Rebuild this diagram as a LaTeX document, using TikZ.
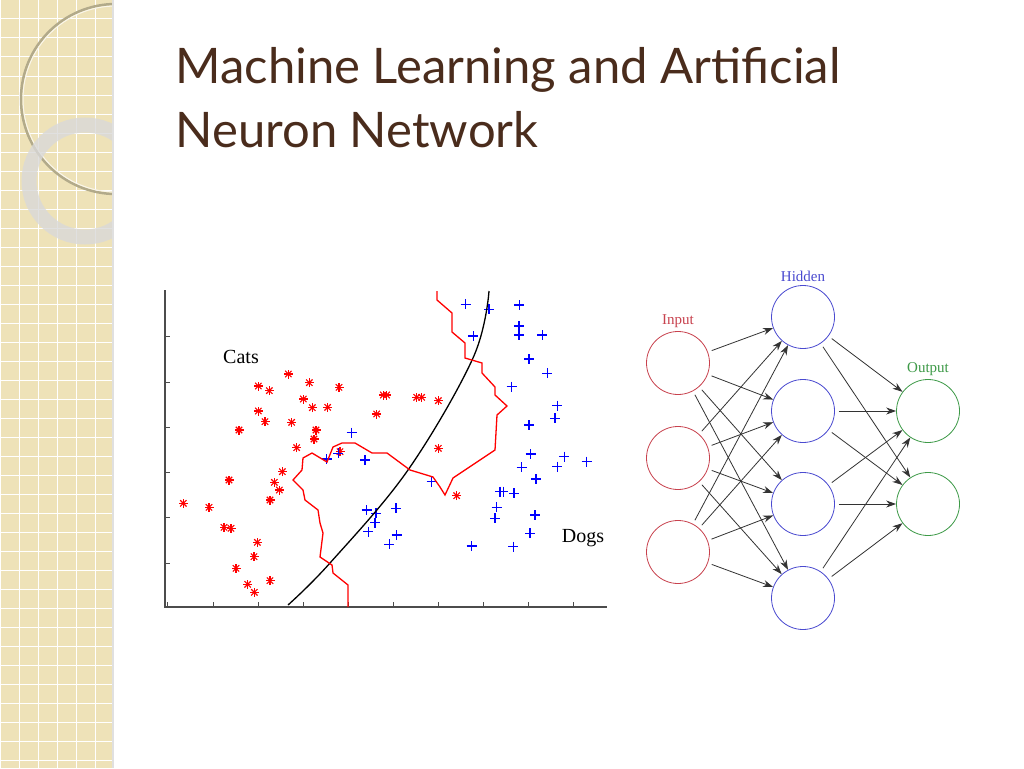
\documentclass[tikz,border=0pt]{standalone}
\usepackage{fontspec}
\setmainfont{Liberation Serif}
\newfontfamily\titlefont{Lato}
\usetikzlibrary{arrows.meta}
\definecolor{sidebeige}{HTML}{EEE2B8}
\definecolor{titlebrown}{HTML}{4A2C1C}
\definecolor{inred}{HTML}{C8424E}
\definecolor{hidblue}{HTML}{4A4AD0}
\definecolor{outgreen}{HTML}{3E9A48}
\tikzset{
  neuron/.style={circle,draw,line width=0.8pt,minimum size=63pt,inner sep=0pt},
  layerlabel/.style={font=\fontsize{15}{15}\selectfont},
  link/.style={-{Stealth[length=10pt,width=7pt]},black!80,line width=0.8pt,shorten <=4pt},
  catmark/.style={red,line width=1.1pt},
  dogmark/.style={blue,line width=1.2pt},
}
\begin{document}
\begin{tikzpicture}[x=1pt,y=-1pt]
    \useasboundingbox (0,0) rectangle (1024,768);
    \fill[white] (0,0) rectangle (1024,768);

    % side strip
    \fill[sidebeige] (0,0) rectangle (113,768);
    \begin{scope}
        \clip (0,0) rectangle (113,768);
        \foreach \g in {0,19,...,760}
        {
            \draw[white,line width=1pt] (\g,0) -- (\g,768);
            \draw[white,line width=1pt] (0,\g) -- (113,\g);
        }
        \draw[black!25!sidebeige,line width=2.5pt] (116,99) circle (95);
        \draw[white!70!sidebeige,line width=1pt] (116,99) circle (93);
        \draw[gray!30!white,line width=15pt,opacity=0.8] (85,181) circle (56);
    \end{scope}
    \fill[black!12] (112,0) rectangle (114,768);

    % title
    \node[anchor=base west,text=titlebrown,font=\titlefont\fontsize{49}{49}\selectfont]
        (title1) at (172,83) {Machine Learning and Artificial};
    \node[anchor=base west,text=titlebrown,font=\titlefont\fontsize{49}{49}\selectfont]
        (title2) at (172,147) {Neuron Network};

    % scatter plot
    \draw[black!70,line width=1.2pt] (165,290) -- (165,607) -- (607,607);
    \foreach \t in {336,382,427,472,517,563}
        \draw[black!70] (165,\t) -- (170,\t);
    \foreach \t in {167,213,258,303,348,393,438,483,528,573}
        \draw[black!70] (\t,607) -- (\t,602);

    \foreach \x/\y in {415/282,478/308,325/318,358/332,567/322,460/357,487/383,533/382,
        710/345,700/345,800/352,815/352,865/362,325/393,345/425,425/427,680/402,267/450,
        498/450,492/477,440/503,570/515,865/505,397/575,237/600,373/607,388/630,360/660,
        100/670,177/682,222/742,243/745,322/787,312/830,258/865,293/913,313/937,360/902,920/647}
    {
        \foreach \a in {0,45,90,135}
            \draw[catmark] ({150+\x/3},{280+\y/3}) ++(\a:4.5) -- ++(\a+180:9);
    }
    \foreach \x/\y in {947/73,1017/88,1108/75,1107/138,1107/165,1177/165,970/168,1137/237,
        1192/280,1085/320,1222/377,1215/415,1137/435,605/458,530/537,565/520,645/540,
        1142/522,1243/530,1115/562,1222/560,1310/545,1158/597,845/605,1050/635,1060/635,
        1092/640,1040/682,1035/715,1155/705,650/690,678/700,738/685,675/728,655/755,
        740/765,718/793,965/798,1090/800,1140/760}
    {
        \draw[dogmark] ({150+\x/3-5},{280+\y/3}) -- ({150+\x/3+5},{280+\y/3})
            ({150+\x/3},{280+\y/3-5}) -- ({150+\x/3},{280+\y/3+5});
    }

    \draw[black,line width=1.3pt] plot[smooth,tension=0.6] coordinates
        {(288,605) (330,563) (408,470) (473,358) (489,291)};
    \draw[red,line width=1.3pt] plot coordinates
        {(437,291) (437,300) (452,313) (452,332) (465,343) (465,358) (482,363) (482,373)
         (495,387) (495,395) (507,406) (497,415) (495,450) (453,478) (445,495) (440,487)
         (433,477) (410,470) (387,453) (372,453) (355,443) (342,443) (333,447) (327,462)
         (312,453) (303,458) (302,470) (293,480) (303,490) (305,500) (318,510) (320,523)
         (323,533) (320,557) (332,565) (333,573) (348,585) (348,607)};

    \node[font=\fontsize{20}{20}\selectfont] (cats) at (241,357) {Cats};
    \node[font=\fontsize{20}{20}\selectfont] (dogs) at (583,538) {Dogs};

    % network
    \foreach \n/\y in {1/363,2/458,3/552}
        \node[neuron,draw=inred] (in\n) at (678,\y) {};
    \foreach \n/\y in {1/317,2/411,3/504,4/598}
        \node[neuron,draw=hidblue] (hid\n) at (803,\y) {};
    \foreach \n/\y in {1/411,2/504}
        \node[neuron,draw=outgreen] (out\n) at (928,\y) {};

    \node[layerlabel,text=inred,above=0pt] (inlabel) at (in1.north) {Input};
    \node[layerlabel,text=hidblue,above=0pt] (hidlabel) at (hid1.north) {Hidden};
    \node[layerlabel,text=outgreen,above=0pt] (outlabel) at (out1.north) {Output};

    \foreach \i in {1,2,3}
        \foreach \h in {1,2,3,4}
            \draw[link] (in\i) -- (hid\h);
    \foreach \h in {1,2,3,4}
        \foreach \o in {1,2}
            \draw[link] (hid\h) -- (out\o);
\end{tikzpicture}
\end{document}
